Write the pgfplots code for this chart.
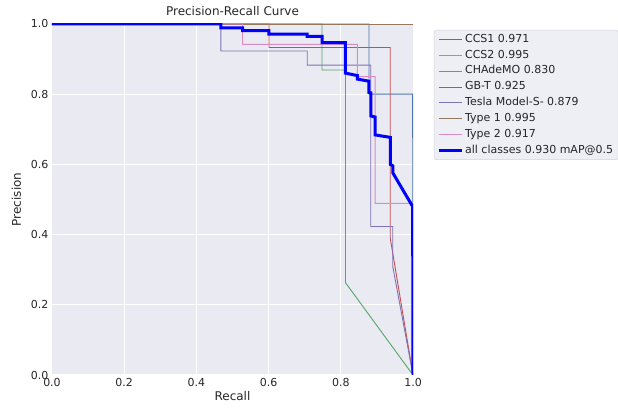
\documentclass[border=0pt]{standalone}
\usepackage{fontspec}
\setmainfont{DejaVu Sans}
\usepackage{pgfplots}
\pgfplotsset{compat=1.18}
\definecolor{bg}{RGB}{234,234,242}
\definecolor{tc}{RGB}{38,38,38}
\definecolor{cA}{RGB}{76,114,176}
\definecolor{cB}{RGB}{221,132,82}
\definecolor{cC}{RGB}{85,168,104}
\definecolor{cD}{RGB}{196,78,82}
\definecolor{cE}{RGB}{129,114,179}
\definecolor{cF}{RGB}{147,120,96}
\definecolor{cG}{RGB}{218,139,195}
\begin{document}
\fontsize{10}{12}\selectfont
\begin{tikzpicture}
\begin{axis}[
  scale only axis, width=361pt, height=351pt,
  xmin=0, xmax=1, ymin=0, ymax=1,
  axis background/.style={fill=bg},
  axis line style={draw=none},
  grid=major, grid style={white, line width=1pt},
  major tick length=0pt,
  xtick={0,0.2,0.4,0.6,0.8,1}, ytick={0,0.2,0.4,0.6,0.8,1},
  /pgf/number format/assume math mode=true,
  xticklabel style={/pgf/number format/fixed, /pgf/number format/fixed zerofill, /pgf/number format/precision=1},
  yticklabel style={/pgf/number format/fixed, /pgf/number format/fixed zerofill, /pgf/number format/precision=1},
  tick label style={font=\fontsize{11}{13}\selectfont, text=tc},
  xlabel={Recall}, ylabel={Precision},
  label style={font=\fontsize{12}{14}\selectfont, text=tc},
  xlabel style={yshift=2pt},
  ylabel style={yshift=3pt},
  title={Precision-Recall Curve},
  title style={font=\fontsize{12}{14}\selectfont, text=tc, at={(0.5,1)}, anchor=south, yshift=-1pt},
  legend style={at={(rel axis cs:1.058,0.983)}, anchor=north west,
    fill={rgb,255:red,238;green,238;blue,245}, draw={rgb,255:red,210;green,210;blue,215},
    rounded corners=2pt, font=\fontsize{11}{13}\selectfont, text=tc,
    nodes={inner ysep=1.5pt, text height=8.5pt, text depth=2.7pt}, row sep=1.7pt},
  legend cell align=left,
  legend image code/.code={\draw[#1] (0pt,0pt) -- (23pt,0pt);},
  every axis plot/.append style={line width=0.9pt, mark=none},
]
\coordinate (SW) at (rel axis cs:0,0);
\addplot[cA] coordinates {(0,1) (0.878,1) (0.878,0.80) (0.999,0.80) (1,0)};
\addlegendentry{CCS1 0.971}
\addplot[cB] coordinates {(0,1) (1,1)};
\addlegendentry{CCS2 0.995}
\addplot[cC] coordinates {(0,1) (0.748,1) (0.748,0.869) (0.813,0.869) (0.813,0.263) (1,0)};
\addlegendentry{CHAdeMO 0.830}
\addplot[cD] coordinates {(0,1) (0.601,1) (0.601,0.933) (0.937,0.933) (0.937,0.39) (1,0)};
\addlegendentry{GB-T 0.925}
\addplot[cE] coordinates {(0,1) (0.468,1) (0.468,0.923) (0.707,0.923) (0.707,0.883) (0.883,0.883) (0.883,0.423) (0.944,0.423) (0.944,0.309) (1,0)};
\addlegendentry{Tesla Model-S- 0.879}
\addplot[cF] coordinates {(0,1) (1,1)};
\addlegendentry{Type 1 0.995}
\addplot[cG] coordinates {(0,1) (0.528,1) (0.528,0.942) (0.846,0.942) (0.846,0.85) (0.895,0.85) (0.895,0.489) (0.999,0.489) (1,0)};
\addlegendentry{Type 2 0.917}
\addplot[blue, line width=3pt] coordinates {(0,1) (0.468,1) (0.468,0.989) (0.528,0.989) (0.528,0.981) (0.601,0.981) (0.601,0.971) (0.707,0.971) (0.707,0.965) (0.748,0.965) (0.748,0.947) (0.813,0.947) (0.813,0.860) (0.846,0.853) (0.846,0.843) (0.878,0.837) (0.878,0.805) (0.883,0.804) (0.883,0.738) (0.895,0.735) (0.895,0.684) (0.937,0.677) (0.937,0.600) (0.944,0.596) (0.944,0.576) (0.999,0.480) (1,0)};
\addlegendentry{all classes 0.930 mAP@0.5}
\end{axis}
\pgfresetboundingbox
\path[use as bounding box] ([shift={(-52pt,-39pt)}]SW) rectangle ++(618pt,414pt);
\end{tikzpicture}
\end{document}
